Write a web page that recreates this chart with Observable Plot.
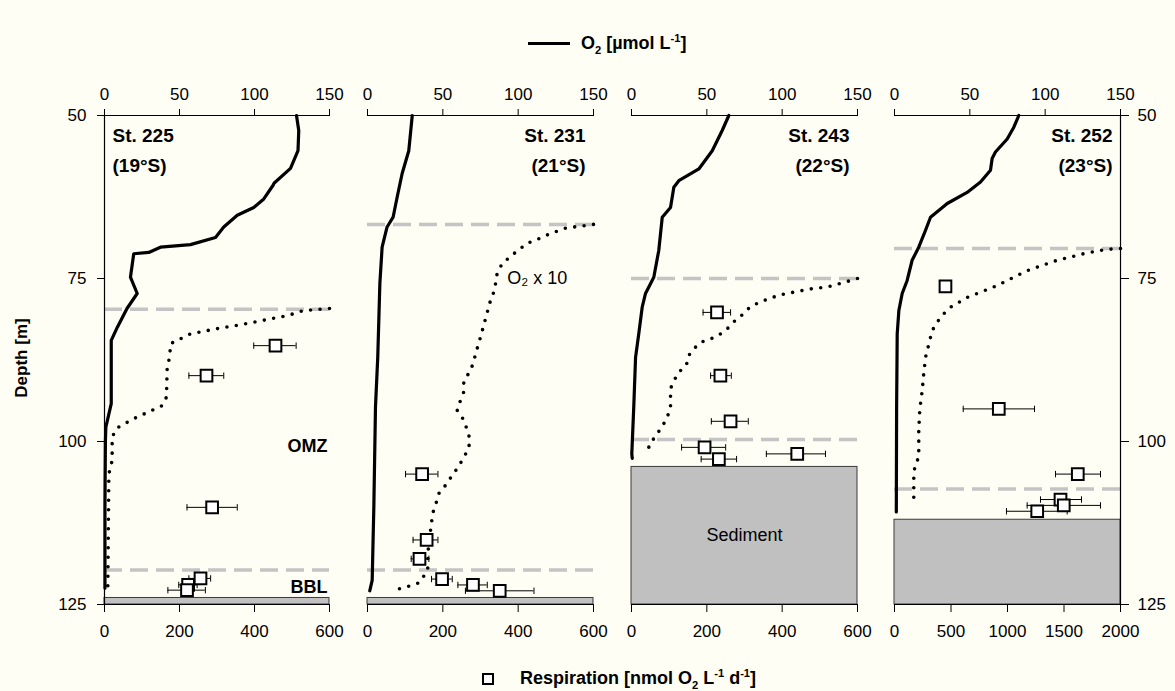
<!DOCTYPE html>
<html><head><meta charset="utf-8">
<script src="https://cdn.jsdelivr.net/npm/d3@7"></script>
<script src="https://cdn.jsdelivr.net/npm/@observablehq/plot@0.6"></script>
<style>
html,body{margin:0;padding:0;background:#fefef4;}
#wrap{position:relative;width:1175px;height:691px;background:#fefef4;font-family:"Liberation Sans",Arial,sans-serif;overflow:hidden;}
.panel{position:absolute;top:60px;}
.legend{position:absolute;font-weight:bold;font-size:18px;color:#000;white-space:nowrap;line-height:18px;}
sub,sup{font-size:62%;line-height:0;}
#ylab{position:absolute;left:22px;top:358px;transform:translate(-50%,-50%) rotate(-90deg);font-weight:bold;font-size:17px;white-space:nowrap;}
</style></head><body><div id="wrap"></div><script>
// ---- shared scales / ticks ----
const o2Domain = [0, 150];
const depthDomain = [50, 125];
const o2Ticks = [0, 50, 100, 150];
const depthTicks = [50, 75, 100, 125];
const respTicksA = [0, 200, 400, 600];
const respTicksB = [0, 500, 1000, 1500, 2000];
const stations = ["St. 225", "St. 231", "St. 243", "St. 252"];
const latitudes = ["(19°S)", "(21°S)", "(22°S)", "(23°S)"];

// ---- St. 225 ----
const s225Depth = [50, 52.3, 55.4, 58.1, 60.4, 60.7, 62.8, 64.1, 65.3, 67.1, 68.7, 69.8, 70.2, 71, 71.2, 74.8, 77.3, 79.6, 82.5, 84.5, 94.2, 97.8, 100, 110, 122.5];
const s225O2 = [128, 129.5, 129, 124, 113, 112.4, 106.2, 99.5, 88.5, 79.5, 74, 57.3, 37.3, 29.5, 19.5, 17.3, 21.8, 15, 8.5, 4.5, 4.5, 0.9, 0.6, 0.3, 0.3];
const s225FineDepth = [79.6, 79.9, 80.7, 81.4, 82, 82.7, 83.5, 85, 87, 88.6, 93.2, 94.5, 95.2, 96.5, 97.9, 99.3, 102.9, 105, 122.3];
const s225FineO2 = [15, 13.3, 12.18, 10.6, 9.3, 7.5, 5.73, 4.4, 4.35, 4.18, 4.13, 3.85, 3.18, 1.95, 0.85, 0.51, 0.51, 0.29, 0.22];
const s225RespDepth = [85.3, 89.9, 110.1, 121, 122, 122.8];
const s225Resp = [456, 272, 287, 256, 223, 220];
const s225RespLo = [398, 225, 220, 225, 198, 169];
const s225RespHi = [511, 318, 354, 283, 247, 269];
const s225Bounds = [79.7, 119.7];
const s225Bottom = [124, 125];

// ---- St. 231 ----
const s231Depth = [50, 55.4, 58.9, 62.5, 65.6, 67.1, 70.2, 75.8, 87.1, 94.7, 110.1, 121.3, 122.9];
const s231O2 = [29.7, 27.4, 23, 19.7, 17, 13, 9.7, 8.2, 6.8, 5.3, 4.2, 3.1, 1.5];
const s231FineDepth = [66.7, 67, 67.2, 68.1, 68.9, 69.6, 71.2, 72.7, 74.3, 76.8, 78.4, 81.2, 84, 86.6, 88.1, 89.5, 90.9, 92.4, 93.7, 95.2, 96.7, 98.2, 99.6, 101.1, 102.4, 103.8, 105.2, 106.6, 108, 109.4, 110.8, 112.4, 113.7, 115.2, 116.7, 118.3, 119.8, 121.7, 122.2, 122.6];
const s231FineO2 = [15, 14.1, 13.25, 12.14, 11.37, 10.6, 9.71, 8.94, 8.6, 8.43, 8.16, 7.83, 7.5, 7.17, 7.01, 6.72, 6.39, 6.39, 6.17, 5.95, 6.39, 6.61, 6.79, 6.72, 6.39, 6.06, 5.62, 5.22, 4.73, 4.56, 4.36, 4.25, 4.18, 4.07, 4.03, 4.0, 4.0, 3.4, 2.74, 2.08];
const s231RespDepth = [105, 115.1, 118, 121.1, 122, 122.9];
const s231Resp = [145, 157, 138, 198, 280, 351];
const s231RespLo = [101, 121, 116, 170, 240, 260];
const s231RespHi = [187, 187, 163, 225, 318, 442];
const s231Bounds = [66.7, 119.7];
const s231Bottom = [124, 125];

// ---- St. 243 ----
const s243Depth = [50, 52.3, 55.4, 58.2, 60, 61, 64.1, 65.6, 70.7, 74.8, 77.3, 79.4, 83.5, 87.1, 94.7, 101.9, 102.6];
const s243O2 = [64.6, 60.2, 53.6, 44.7, 31.4, 28.1, 25.9, 20.4, 18.1, 14.8, 9.3, 7.1, 4.8, 2.7, 1.5, 0.2, 0.5];
const s243FineDepth = [75, 75.6, 76.3, 76.6, 77.1, 77.5, 78.1, 78.6, 79.3, 80.4, 81.4, 82.5, 83.5, 84.3, 84.8, 85.8, 86.8, 88.2, 89.4, 90.7, 91.9, 93.3, 94.8, 96.3, 97.7, 99.2, 100.6, 102.1];
const s243FineO2 = [15, 14.1, 13, 11.88, 10.77, 9.89, 9.11, 8.56, 7.89, 7.45, 6.9, 6.46, 5.9, 5.24, 4.58, 4.13, 3.8, 3.65, 3.14, 2.81, 2.59, 2.59, 2.59, 2.37, 2.04, 1.59, 1.15, 1.15];
const s243RespDepth = [80.2, 89.9, 96.9, 100.9, 102.7, 101.9];
const s243Resp = [227, 236, 263, 194, 232, 440];
const s243RespLo = [190, 210, 212, 133, 185, 358];
const s243RespHi = [263, 265, 310, 250, 279, 515];
const s243Bounds = [75, 99.7];
const s243Bottom = [103.9, 125];

// ---- St. 252 ----
const s252Depth = [50, 51.8, 53.6, 55.6, 56.6, 58.4, 60.2, 61.8, 63.5, 65.6, 67.6, 70.2, 72.2, 75.3, 77.3, 79.9, 83.5, 95, 110.8];
const s252O2 = [82.5, 79.2, 74.8, 67, 64.8, 63.7, 57.1, 48.2, 35, 23.9, 20.6, 16.1, 11.7, 8.4, 5.1, 2.9, 1.8, 1.4, 1.2];
const s252FineDepth = [70.4, 70.5, 70.7, 71.2, 71.7, 72.2, 72.9, 73.8, 74.8, 76.1, 77.1, 77.9, 79.4, 80.4, 81.7, 83, 84.5, 87.1, 89.6, 92.2, 95, 98.3, 102.4, 103.8, 105.5, 109.5];
const s252FineO2 = [15, 14.33, 13.67, 12.56, 11.68, 10.8, 9.91, 8.81, 7.92, 6.81, 5.71, 4.82, 3.72, 3.27, 2.83, 2.5, 2.34, 2.06, 1.94, 1.84, 1.68, 1.61, 1.61, 1.35, 1.28, 1.28];
const s252RespDepth = [76.2, 95, 105, 108.9, 109.8, 110.7];
const s252Resp = [451, 923, 1622, 1469, 1498, 1263];
const s252RespLo = [440, 608, 1425, 1292, 1174, 991];
const s252RespHi = [462, 1239, 1823, 1655, 1823, 1528];
const s252Bounds = [70.4, 107.3];
const s252Bottom = [112, 125];

const fineFactor = 10; // "O2 x 10"

const wrap = document.getElementById("wrap");

const capSymbol = {draw(context, size) { const h = Math.sqrt(size) / 2; context.moveTo(0, -h); context.lineTo(0, h); }};

function panel(cfg) {
  const k = o2Domain[1] / cfg.respMax;
  const prof = cfg.depth.map((d, i) => ({depth: d, o2: cfg.o2[i]}));
  const fine = cfg.fineDepth.map((d, i) => ({depth: d, o2: cfg.fineO2[i] * fineFactor}));
  const resp = cfg.respDepth.map((d, i) => ({depth: d, r: cfg.resp[i], lo: cfg.respLo[i], hi: cfg.respHi[i]}));
  const marks = [
    Plot.rect([cfg.bottom], {x1: () => o2Domain[0], x2: () => o2Domain[1], y1: d => d[0], y2: d => d[1], fill: "#c0c0c0", stroke: "#3a3a3a", strokeWidth: 1}),
    Plot.ruleY(cfg.bounds, {stroke: "#c4c4c4", strokeWidth: 3.5, strokeDasharray: "18,8"}),
    Plot.line(fine, {x: "o2", y: "depth", stroke: "#000", strokeWidth: 3.6, strokeDasharray: "0,9.5", strokeLinecap: "round", curve: "linear"}),
    Plot.line(prof, {x: "o2", y: "depth", stroke: "#000", strokeWidth: 3.2, strokeLinejoin: "round", strokeLinecap: "round"}),
    Plot.ruleY(resp, {y: "depth", x1: d => d.lo * k, x2: d => d.hi * k, stroke: "#000", strokeWidth: 1}),
    Plot.dot(resp, {x: d => d.lo * k, y: "depth", symbol: capSymbol, r: 3.6, stroke: "#000", strokeWidth: 1}),
    Plot.dot(resp, {x: d => d.hi * k, y: "depth", symbol: capSymbol, r: 3.6, stroke: "#000", strokeWidth: 1}),
    Plot.dot(resp, {x: d => d.r * k, y: "depth", symbol: "square", r: 6.6, fill: "#fff", stroke: "#000", strokeWidth: 2}),
    Plot.ruleY([depthDomain[0]], {stroke: "#000", strokeWidth: 1.2}),
    Plot.ruleY([depthDomain[1]], {stroke: "#000", strokeWidth: 1.2}),
    Plot.axisX(o2Ticks, {anchor: "top", tickSize: 7, tickPadding: 9, label: null, fontSize: 17}),
    Plot.axisX(cfg.respTicks.map(v => v * k), {anchor: "bottom", tickSize: 8, tickPadding: 12, label: null, fontSize: 17, tickFormat: v => String(Math.round(v / k))}),
    Plot.text([cfg.station + "\n" + cfg.lat], {frameAnchor: cfg.side === "left" ? "top-left" : "top-right", dx: cfg.side === "left" ? 8 : -8, dy: 5, fontWeight: "bold", fontSize: 19, lineHeight: 1.57, fill: "#000"})
  ];
  if (cfg.side === "left") {
    marks.push(Plot.ruleX([o2Domain[0]], {stroke: "#000", strokeWidth: 1.2}));
    marks.push(Plot.axisY(depthTicks, {anchor: "left", tickSize: 7, tickPadding: 11, label: null, fontSize: 17}));
  }
  if (cfg.rightAxis) {
    marks.push(Plot.ruleX([o2Domain[1]], {stroke: "#000", strokeWidth: 1.2}));
    marks.push(Plot.axisY(depthTicks, {anchor: "right", tickSize: 8, tickPadding: 9, label: null, fontSize: 17}));
  }
  for (const n of cfg.notes || []) {
    marks.push(Plot.text([n], {x: d => d.x, y: d => d.depth, text: d => d.text, textAnchor: n.anchor, fontWeight: n.bold ? "bold" : "normal", fontSize: 18, fill: "#000", dx: n.dx || 0}));
  }
  const chart = Plot.plot({
    width: cfg.width, height: 580,
    marginTop: 55, marginBottom: 36, marginLeft: cfg.ml, marginRight: cfg.mr,
    x: {domain: o2Domain},
    y: {domain: depthDomain, reverse: true, axis: (cfg.side === "left" || cfg.rightAxis) ? undefined : null},
    style: {background: "transparent", fontFamily: "'Liberation Sans', Arial, sans-serif", fontSize: "17px", color: "#000", overflow: "visible"},
    marks
  });
  chart.classList.add("panel");
  chart.style.left = cfg.left + "px";
  wrap.appendChild(chart);
}

panel({left: 0, width: 348, ml: 104, mr: 19, side: "left", station: stations[0], lat: latitudes[0], respMax: 600, respTicks: respTicksA,
  depth: s225Depth, o2: s225O2, fineDepth: s225FineDepth, fineO2: s225FineO2,
  respDepth: s225RespDepth, resp: s225Resp, respLo: s225RespLo, respHi: s225RespHi, bounds: s225Bounds, bottom: s225Bottom,
  notes: [{text: "OMZ", x: 150, depth: 100.8, anchor: "end", bold: true, dx: -2}, {text: "BBL", x: 150, depth: 122.3, anchor: "end", bold: true, dx: -2}]});
panel({left: 348, width: 264, ml: 19, mr: 19, side: "right", station: stations[1], lat: latitudes[1], respMax: 600, respTicks: respTicksA,
  depth: s231Depth, o2: s231O2, fineDepth: s231FineDepth, fineO2: s231FineO2,
  respDepth: s231RespDepth, resp: s231Resp, respLo: s231RespLo, respHi: s231RespHi, bounds: s231Bounds, bottom: s231Bottom,
  notes: [{text: "O₂ x 10", x: 92.7, depth: 75, anchor: "start", bold: false}]});
panel({left: 612, width: 263, ml: 19, mr: 18, side: "right", station: stations[2], lat: latitudes[2], respMax: 600, respTicks: respTicksA,
  depth: s243Depth, o2: s243O2, fineDepth: s243FineDepth, fineO2: s243FineO2,
  respDepth: s243RespDepth, resp: s243Resp, respLo: s243RespLo, respHi: s243RespHi, bounds: s243Bounds, bottom: s243Bottom,
  notes: [{text: "Sediment", x: 75, depth: (s243Bottom[0] + s243Bottom[1]) / 2, anchor: "middle", bold: false}]});
panel({left: 875, width: 300, ml: 19, mr: 55, side: "right", rightAxis: true, station: stations[3], lat: latitudes[3], respMax: 2000, respTicks: respTicksB,
  depth: s252Depth, o2: s252O2, fineDepth: s252FineDepth, fineO2: s252FineO2,
  respDepth: s252RespDepth, resp: s252Resp, respLo: s252RespLo, respHi: s252RespHi, bounds: s252Bounds, bottom: s252Bottom, notes: []});

// ---- legends / labels ----
const legTop = document.createElement("div");
legTop.className = "legend";
legTop.style.left = "528px"; legTop.style.top = "34px";
legTop.innerHTML = '<span style="display:inline-block;width:42px;height:3px;background:#000;vertical-align:middle;margin-right:11px;position:relative;top:-1px"></span>O<sub>2</sub> [µmol L<sup>-1</sup>]';
wrap.appendChild(legTop);

const legBot = document.createElement("div");
legBot.className = "legend";
legBot.style.left = "482px"; legBot.style.top = "669px";
legBot.innerHTML = '<span style="display:inline-block;width:8px;height:8px;border:2px solid #000;background:#fff;vertical-align:middle;margin-right:26px"></span>Respiration [nmol O<sub>2</sub> L<sup>-1</sup> d<sup>-1</sup>]';
wrap.appendChild(legBot);

const yLab = document.createElement("div");
yLab.id = "ylab";
yLab.textContent = "Depth [m]";
wrap.appendChild(yLab);
</script></body></html>
